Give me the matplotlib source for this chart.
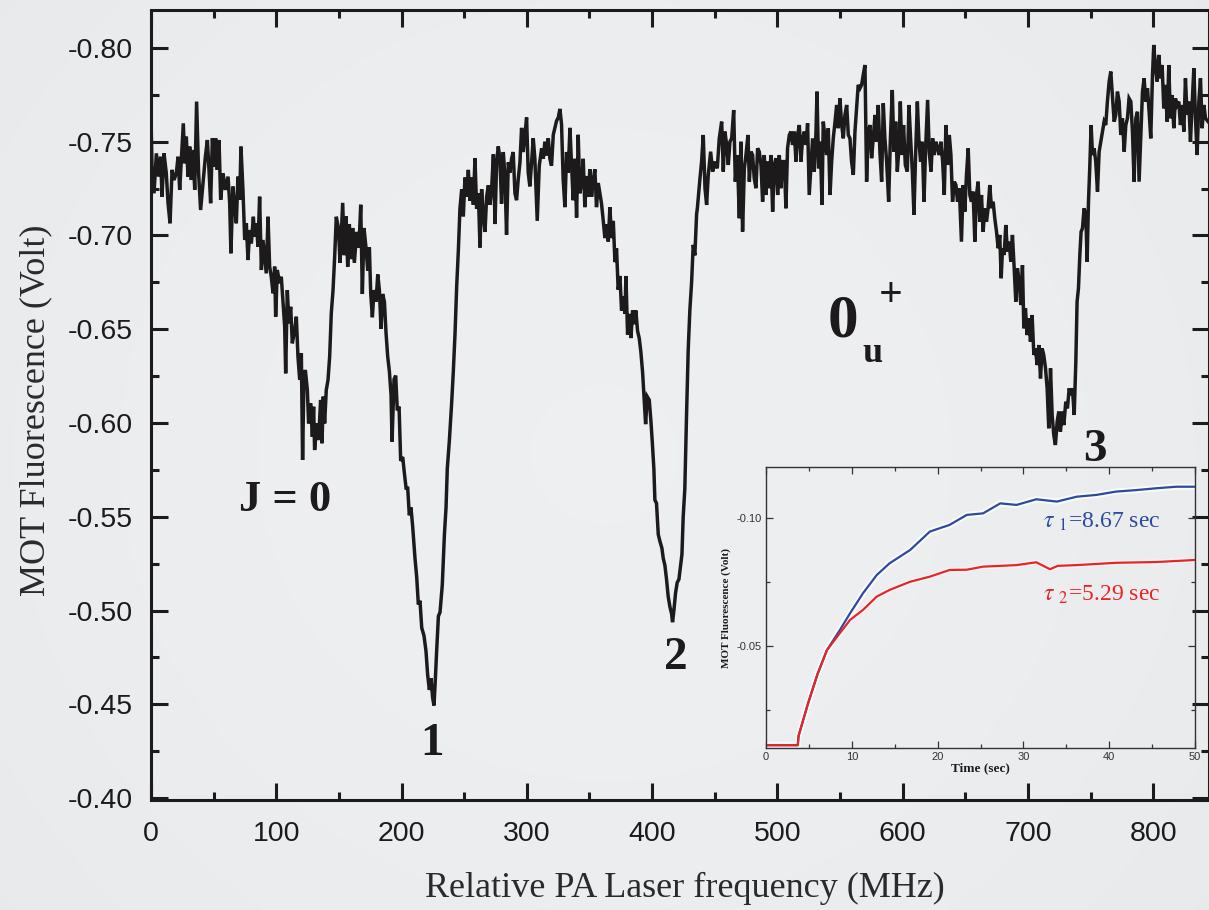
import numpy as np
import matplotlib
matplotlib.use("Agg")
import matplotlib.pyplot as plt
from matplotlib.ticker import MultipleLocator, FixedLocator

plt.rcParams['mathtext.fontset'] = 'stix'

# ---------------- main trace ----------------
freq_mhz = [
    0.0, 0.8, 2.4, 4.3, 6.1, 7.7, 8.8, 10.4, 12.2, 13.6, 15.2, 16.8, 18.4, 20.2, 21.6, 22.9, 24.2, 25.8, 26.9, 28.2,
    29.5, 30.9, 32.2, 33.5, 34.9, 36.4, 38.0, 39.6, 41.5, 43.4, 45.0, 46.3, 47.6, 49.0, 50.3, 51.6, 52.9, 54.3, 55.6, 57.5,
    59.3, 61.5, 62.8, 63.8, 65.4, 66.8, 68.1, 69.4, 70.8, 71.8, 73.4, 74.8, 76.1, 77.4, 78.8, 80.1, 81.7, 82.7, 84.1, 85.4,
    86.7, 88.1, 89.4, 90.7, 92.0, 93.4, 94.7, 96.0, 97.4, 98.7, 99.5, 100.8, 102.7, 104.0, 105.4, 106.7, 107.5, 108.8, 110.1, 111.5,
    112.8, 114.7, 116.0, 117.3, 118.7, 120.0, 121.0, 122.1, 123.2, 124.8, 125.8, 127.4, 128.8, 129.8, 130.6, 132.2, 133.8, 135.4, 136.5, 137.5,
    138.6, 139.9, 141.3, 142.6, 143.9, 145.3, 146.6, 147.9,
    149.6, 150.9, 153.0, 154.3, 155.7, 157.0, 158.3, 159.7, 161.0, 162.3, 164.2, 166.0, 167.4, 168.7, 170.0, 171.6, 173.0, 174.3, 175.4, 176.7,
    178.0, 179.6, 181.0, 182.3, 183.6, 184.9, 186.3, 187.6, 188.9, 190.3, 191.6, 192.4, 194.0, 195.3, 196.6, 198.0, 199.3, 200.9, 202.2, 203.6,
    204.9, 206.2, 207.5, 208.9, 210.7, 212.1, 213.4, 214.7, 216.1, 217.9, 219.5, 220.8, 222.2, 223.5, 224.8, 225.9, 227.0, 228.0, 229.4, 230.7,
    232.5, 234.2, 235.5, 236.5, 238.1, 240.0, 241.3, 242.7, 244.0, 245.3, 246.6, 248.0, 249.3, 250.6, 251.9, 253.3, 254.6, 255.9, 257.3, 258.6,
    259.9, 261.3, 262.6, 263.9, 265.3, 266.6, 267.9, 269.3, 270.6, 271.9, 273.3, 274.6, 275.9, 277.2,
    278.5, 279.8, 281.2, 282.5, 283.8, 285.2, 286.5, 287.8, 289.1, 290.5, 291.8, 293.1, 294.5, 295.8, 297.1, 298.5, 299.8, 301.1, 302.4, 303.8,
    305.1, 306.4, 308.3, 309.9, 311.8, 313.1, 314.4, 315.7, 317.1, 318.4, 319.7, 321.1, 322.4, 323.7, 325.1, 326.4, 327.7, 329.0, 330.4, 331.7,
    333.0, 334.4, 335.7, 337.0, 338.4, 339.7, 341.0, 342.3, 343.7, 345.0, 346.3, 347.7, 349.0, 350.3, 351.7, 353.0, 354.3, 355.6, 357.0, 358.3,
    359.6, 361.0, 362.3, 363.6, 365.0, 366.3, 367.6, 369.0, 370.3, 371.6, 372.9, 374.3, 375.6, 376.9, 378.3, 379.1, 380.4, 381.7, 383.1, 384.4,
    385.7, 387.0, 388.4, 389.7, 391.0, 392.4, 393.7, 394.8, 396.1, 397.7, 399.0, 400.1, 401.4, 402.2, 403.5, 404.9, 406.2, 407.8, 408.9, 410.2,
    411.5, 412.8, 414.2, 415.5, 416.3, 417.4, 418.7, 420.0, 421.4, 422.7, 423.8, 424.8, 426.1, 427.5, 428.8, 430.1, 431.5, 432.8, 434.1, 435.5,
    436.1, 438.2, 439.5, 440.8, 442.2, 443.5, 444.8, 446.7, 448.3, 450.2, 452.0, 453.6, 455.5, 456.8, 458.1, 459.5, 460.8, 462.1, 463.5, 465.1,
    466.4, 468.0, 469.6, 470.9, 472.2, 473.6, 474.9, 476.5, 477.6, 478.9, 480.2, 481.5, 482.9, 484.2, 485.5, 486.9, 488.2, 489.5, 490.9, 492.2,
    493.5, 494.8, 496.2, 497.5, 498.8, 500.2, 501.5, 502.8, 504.2, 505.5, 506.8, 508.1, 509.5, 510.8, 512.1, 513.5, 514.8, 516.1, 517.5, 518.8,
    520.1, 521.5, 522.8, 524.1, 525.4, 526.8, 528.1, 529.4, 530.8, 531.6, 532.9, 534.2, 535.6, 536.6, 538.0, 539.3, 540.6, 542.0, 543.3, 544.6,
    546.0, 547.3, 548.6, 549.9, 551.3, 552.6, 553.9, 555.3, 556.6, 557.9, 559.2, 560.6, 561.9, 563.2, 564.5, 565.9, 567.2, 568.5, 569.9, 571.2,
    572.5, 573.9, 575.2, 576.5, 577.9, 579.2, 580.5, 581.8, 583.2, 584.5, 585.8, 587.2, 588.8, 590.1, 591.7, 593.0, 594.4, 595.7, 597.0, 598.1,
    599.4, 600.7, 602.1, 603.7, 605.0, 606.3, 607.7, 609.0, 610.3, 611.7, 613.0, 614.3, 615.6, 617.0, 618.3, 619.9, 621.2, 622.6, 623.9, 625.2,
    626.5, 627.9, 629.2, 630.5, 631.9, 633.2, 634.5, 635.8, 637.2, 638.5, 639.8, 641.2, 642.5, 643.8, 645.2,
    646.9, 648.3, 649.6, 650.9, 652.3, 653.6, 654.9, 656.2, 657.6, 658.9, 660.2, 661.6, 662.9, 664.2, 665.6, 666.9, 668.2, 669.5, 670.9, 672.2,
    673.5, 674.9, 676.2, 677.5, 678.6, 679.7, 681.0, 682.3, 683.6, 685.0, 686.3, 687.6, 689.0, 690.3, 691.6, 693.0, 694.3, 695.6, 696.7, 698.0,
    699.3, 700.7, 702.0, 703.3, 704.7, 706.0, 707.3, 708.7, 710.0, 711.3, 712.6, 714.0, 715.3, 716.6, 718.0, 719.3, 720.6, 721.9, 723.3, 724.6,
    725.9, 727.3, 728.6, 730.2, 731.5, 732.9, 734.2, 735.5, 736.9, 738.2, 739.2, 740.3, 741.4, 742.4, 743.5, 744.8, 746.2, 747.2, 748.3, 749.3,
    750.4, 751.5, 752.8, 754.1, 755.5, 756.8, 758.1, 759.5, 760.8, 762.1, 763.4, 764.8, 766.1, 767.4, 768.8, 770.1, 771.4, 772.8, 774.1, 775.4,
    776.8, 778.1, 779.4, 780.7, 782.1, 783.4, 784.7, 786.1, 787.4, 788.7, 790.1, 791.4, 792.7, 794.0, 795.4, 796.7, 798.0, 799.4, 800.4, 801.8,
    803.1, 804.4, 805.8, 807.1, 808.4, 809.7, 811.1, 812.4, 813.7, 815.1, 816.4, 817.7, 819.1, 820.4, 821.7, 823.1, 824.4, 825.7, 827.0, 828.4,
    829.7, 831.0, 832.4, 833.7, 835.0, 836.4, 837.7, 839.0, 840.4, 841.7, 843.8,
]
fluor_volt = [
    -0.7627, -0.7367, -0.7225, -0.7438, -0.7314, -0.7420, -0.7207, -0.7438, -0.7332, -0.7172, -0.7065, -0.7350, -0.7296, -0.7332, -0.7420, -0.7243, -0.7403, -0.7598, -0.7385, -0.7527,
    -0.7314, -0.7474, -0.7296, -0.7456, -0.7243, -0.7714, -0.7332, -0.7136, -0.7278, -0.7420, -0.7509, -0.7350, -0.7172, -0.7518, -0.7367, -0.7518, -0.7350, -0.7509, -0.7190, -0.7332,
    -0.7243, -0.7314, -0.7172, -0.6905, -0.7261, -0.7154, -0.7065, -0.7314, -0.7190, -0.7474, -0.7243, -0.6976, -0.7065, -0.6869, -0.7029, -0.6958, -0.7100, -0.6994, -0.7065, -0.6940,
    -0.7207, -0.6816, -0.6976, -0.6887, -0.6798, -0.7100, -0.6834, -0.6780, -0.6692, -0.6834, -0.6567, -0.6816, -0.6745, -0.6780, -0.6638, -0.6514, -0.6265, -0.6709, -0.6532, -0.6620,
    -0.6425, -0.6496, -0.6567, -0.6354, -0.6230, -0.6372, -0.5803, -0.6247, -0.6283, -0.6176, -0.5998, -0.6105, -0.5927, -0.6087, -0.5856, -0.5998, -0.5909, -0.6123, -0.5892, -0.6141,
    -0.5998, -0.6176, -0.6230, -0.6354, -0.6585, -0.6709, -0.6887, -0.7100,
    -0.7040, -0.6854, -0.7174, -0.6895, -0.7102, -0.6833, -0.7061, -0.6874, -0.7040, -0.6854, -0.7019, -0.6936, -0.7164, -0.6688, -0.7040, -0.6936, -0.6812, -0.6936, -0.6688, -0.6564,
    -0.6709, -0.6647, -0.6792, -0.6709, -0.6502, -0.6688, -0.6647, -0.6481, -0.6357, -0.6274, -0.6150, -0.5901, -0.6233, -0.6253, -0.6067, -0.6088, -0.5798, -0.5819, -0.5736, -0.5653,
    -0.5653, -0.5508, -0.5550, -0.5446, -0.5280, -0.5177, -0.5032, -0.5053, -0.4908, -0.4866, -0.4784, -0.4659, -0.4577, -0.4639, -0.4535, -0.4494, -0.4639, -0.4784, -0.4970, -0.4991,
    -0.5136, -0.5405, -0.5550, -0.5757, -0.5901, -0.6109, -0.6274, -0.6481, -0.6729, -0.6916, -0.7143, -0.7247, -0.7102, -0.7309, -0.7206, -0.7350, -0.7185, -0.7309, -0.7164, -0.7413,
    -0.7143, -0.7226, -0.6936, -0.7247, -0.7102, -0.7019, -0.7206, -0.7268, -0.7164, -0.7247, -0.7433, -0.7061, -0.7392, -0.7475,
    -0.7409, -0.7170, -0.7445, -0.7317, -0.7004, -0.7390, -0.7335, -0.7409, -0.7445, -0.7225, -0.7188, -0.7298, -0.7390, -0.7574, -0.7445, -0.7537, -0.7629, -0.7335, -0.7262, -0.7390,
    -0.7519, -0.7409, -0.7078, -0.7372, -0.7464, -0.7409, -0.7500, -0.7427, -0.7519, -0.7409, -0.7372, -0.7537, -0.7574, -0.7611, -0.7629, -0.7675, -0.7592, -0.7298, -0.7151, -0.7445,
    -0.7335, -0.7574, -0.7372, -0.7188, -0.7409, -0.7096, -0.7537, -0.7225, -0.7280, -0.7409, -0.7151, -0.7317, -0.7207, -0.7353, -0.7207, -0.7298, -0.7353, -0.7151, -0.7280, -0.7225,
    -0.7170, -0.7078, -0.6986, -0.7059, -0.6968, -0.7151, -0.6986, -0.7078, -0.6858, -0.6931, -0.6711, -0.6784, -0.6600, -0.6674, -0.6582, -0.6784, -0.6472, -0.6582, -0.6453, -0.6600,
    -0.6527, -0.6600, -0.6490, -0.6453, -0.6380, -0.6270, -0.6123, -0.5994, -0.6141, -0.6123, -0.6013, -0.5902, -0.5755, -0.5590, -0.5572, -0.5406, -0.5370, -0.5333, -0.5278, -0.5241,
    -0.5167, -0.5076, -0.5020, -0.4984, -0.4938, -0.5002, -0.5094, -0.5149, -0.5167, -0.5241, -0.5300, -0.5500, -0.5650, -0.6050, -0.6390, -0.6600, -0.6750, -0.6950, -0.6894, -0.7114,
    -0.7145, -0.7305, -0.7394, -0.7536, -0.7252, -0.7163, -0.7323, -0.7447, -0.7341, -0.7394, -0.7358, -0.7518, -0.7607, -0.7341, -0.7554, -0.7483, -0.7376, -0.7500, -0.7518, -0.7669,
    -0.7287, -0.7429, -0.7092, -0.7500, -0.7021, -0.7358, -0.7429, -0.7536, -0.7287, -0.7447, -0.7429, -0.7305, -0.7252, -0.7465, -0.7447, -0.7376, -0.7180, -0.7429, -0.7216, -0.7394,
    -0.7252, -0.7429, -0.7127, -0.7376, -0.7412, -0.7216, -0.7429, -0.7252, -0.7394, -0.7394, -0.7145, -0.7465, -0.7536, -0.7554, -0.7483, -0.7554, -0.7394, -0.7536, -0.7589, -0.7394,
    -0.7518, -0.7554, -0.7483, -0.7598, -0.7216, -0.7376, -0.7518, -0.7341, -0.7554, -0.7767, -0.7358, -0.7500, -0.7163, -0.7607, -0.7518, -0.7429, -0.7572, -0.7216, -0.7394, -0.7518,
    -0.7607, -0.7696, -0.7572, -0.7731, -0.7589, -0.7518, -0.7643, -0.7696, -0.7536, -0.7518, -0.7394, -0.7323, -0.7554, -0.7678, -0.7803, -0.7785, -0.7803, -0.7856, -0.7909, -0.7287,
    -0.7554, -0.7589, -0.7412, -0.7518, -0.7643, -0.7500, -0.7696, -0.7447, -0.7287, -0.7705, -0.7518, -0.7394, -0.7180, -0.7500, -0.7776, -0.7447, -0.7607, -0.7341, -0.7465, -0.7714,
    -0.7429, -0.7589, -0.7376, -0.7341, -0.7696, -0.7518, -0.7341, -0.7110, -0.7429, -0.7714, -0.7500, -0.7394, -0.7500, -0.7180, -0.7465, -0.7723, -0.7447, -0.7341, -0.7518, -0.7429,
    -0.7500, -0.7465, -0.7429, -0.7500, -0.7394, -0.7216, -0.7589, -0.7376, -0.7536, -0.7429, -0.7180, -0.7287, -0.7269, -0.7180, -0.7252,
    -0.6967, -0.7269, -0.7127, -0.7323, -0.7465, -0.7216, -0.7180, -0.7234, -0.6967, -0.7216, -0.7287, -0.7074, -0.7216, -0.7020, -0.7145, -0.7074, -0.7145, -0.7269, -0.7145, -0.7180,
    -0.7092, -0.7020, -0.6932, -0.7003, -0.6772, -0.6932, -0.6896, -0.7056, -0.6914, -0.6967, -0.6860, -0.7003, -0.6825, -0.6647, -0.6825, -0.6754, -0.6629, -0.6842, -0.6505, -0.6612,
    -0.6469, -0.6558, -0.6434, -0.6576, -0.6363, -0.6398, -0.6309, -0.6416, -0.6238, -0.6398, -0.6363, -0.6292, -0.6185, -0.5972, -0.6292, -0.6043, -0.5936, -0.5883, -0.6007, -0.6061,
    -0.5954, -0.6061, -0.5989, -0.6114, -0.6078, -0.6185, -0.6149, -0.6185, -0.6043, -0.6327, -0.6647, -0.6718, -0.6896, -0.7020, -0.7038, -0.7145, -0.7109, -0.6860, -0.7180, -0.7358,
    -0.7589, -0.7429, -0.7465, -0.7394, -0.7234, -0.7447, -0.7500, -0.7554, -0.7607, -0.7589, -0.7714, -0.7821, -0.7874, -0.7749, -0.7607, -0.7643, -0.7767, -0.7714, -0.7536, -0.7625,
    -0.7447, -0.7589, -0.7625, -0.7731, -0.7714, -0.7554, -0.7287, -0.7625, -0.7660, -0.7287, -0.7536, -0.7767, -0.7838, -0.7714, -0.7785, -0.7660, -0.7518, -0.7856, -0.8016, -0.7892,
    -0.7821, -0.7963, -0.7838, -0.7909, -0.7678, -0.7803, -0.7607, -0.7909, -0.7625, -0.7749, -0.7572, -0.7731, -0.7696, -0.7714, -0.7589, -0.7696, -0.7554, -0.7838, -0.7643, -0.7714,
    -0.7500, -0.7696, -0.7892, -0.7625, -0.7429, -0.7714, -0.7838, -0.7572, -0.7696, -0.7625, -0.7607,
]

# ---------------- inset traces ----------------
time_blue = [0, 3.7, 3.8, 4.9, 6.0, 7.1, 8.6, 9.8, 11.3, 12.9, 14.4, 16.8, 19.1, 21.4, 23.4, 25.3, 27.3, 29.2,
             31.5, 33.9, 36.2, 38.5, 40.8, 43.2, 45.5, 47.8, 50.0]
volt_blue = [-0.0113, -0.0113, -0.0150, -0.0276, -0.0390, -0.0484, -0.0562, -0.0628, -0.0706, -0.0777, -0.0823,
             -0.0875, -0.0947, -0.0973, -0.1012, -0.1018, -0.1057, -0.1051, -0.1073, -0.1064, -0.1083, -0.1090,
             -0.1103, -0.1109, -0.1116, -0.1122, -0.1122]
time_red = [0, 3.7, 3.8, 4.9, 6.0, 7.1, 8.6, 9.8, 11.3, 12.9, 14.4, 16.8, 19.1, 21.4, 23.4, 25.3, 29.2,
            31.5, 33.1, 34.0, 36.2, 40.8, 45.5, 50.0]
volt_red = [-0.0113, -0.0113, -0.0150, -0.0276, -0.0390, -0.0484, -0.0550, -0.0602, -0.0641, -0.0693, -0.0719,
            -0.0751, -0.0771, -0.0797, -0.0798, -0.0810, -0.0816, -0.0827, -0.0800, -0.0813, -0.0816, -0.0825,
            -0.0828, -0.0836]

x_ticks = [0, 100, 200, 300, 400, 500, 600, 700, 800]
y_ticks = [-0.80, -0.75, -0.70, -0.65, -0.60, -0.55, -0.50, -0.45, -0.40]
inset_xticks = [0, 10, 20, 30, 40, 50]
inset_yticks = [-0.10, -0.05]

SANS = 'Liberation Sans'
SERIF = 'Liberation Serif'
W, H = 1209, 910

fig = plt.figure(figsize=(W / 100, H / 100), dpi=100)
fig.patch.set_facecolor('#e8eaed')

# subtle vignette background
bg = fig.add_axes([0, 0, 1, 1], zorder=-10)
yy, xx = np.mgrid[0:1:200j, 0:1:260j]
r = np.sqrt((xx - 0.5) ** 2 + ((yy - 0.5) * 0.8) ** 2)
shade = 0.945 - 0.05 * r ** 2
bg.imshow(np.dstack([shade * 0.985, shade * 0.992, shade * 1.0]).clip(0, 1), aspect='auto',
          extent=[0, 1, 0, 1], interpolation='bicubic')
bg.set_axis_off()

ax = fig.add_axes([151 / W, 1 - 800 / H, 1 - 151 / W, (800 - 9.5) / H])
ax.set_facecolor('none')
ax.plot(freq_mhz, fluor_volt, color='#1c1a1b', lw=2.5, solid_joinstyle='miter')
ax.set_xlim(0, 844.5)
ax.set_ylim(-0.399, -0.8205)

ax.xaxis.set_major_locator(FixedLocator(x_ticks))
ax.xaxis.set_minor_locator(MultipleLocator(50))
ax.yaxis.set_major_locator(FixedLocator(y_ticks))
ax.yaxis.set_minor_locator(MultipleLocator(0.025))
ax.set_xticklabels([str(v) for v in x_ticks])
ax.set_yticklabels([f'{v:.2f}' for v in y_ticks])
ax.tick_params(which='both', direction='in', top=True, right=True, color='#1c1a1b', width=2.2)
ax.tick_params(which='major', length=12, labelsize=20.5)
ax.tick_params(axis='x', which='major', pad=15)
ax.tick_params(axis='y', which='major', pad=13)
ax.tick_params(which='minor', length=6)
for lab in ax.get_xticklabels() + ax.get_yticklabels():
    lab.set_fontfamily(SANS)
    lab.set_color('#1c1a1b')
for s in ax.spines.values():
    s.set_linewidth(2.2)
    s.set_color('#1c1a1b')

fig.text(685 / W, 1 - 888 / H, 'Relative PA Laser frequency (MHz)', ha='center', va='center',
         fontfamily=SERIF, fontsize=26, color='#2a2a2a')
fig.text(36 / W, 1 - 410 / H, 'MOT Fluorescence (Volt)', ha='center', va='center', rotation=90,
         fontfamily=SERIF, fontsize=26, color='#2a2a2a')

def ftext(x, y, s, size, **kw):
    fig.text(x / W, 1 - y / H, s, ha='center', va='center', fontfamily=SERIF, fontweight='bold',
             fontsize=size, color='#1c1a1b', **kw)

ftext(285, 500, 'J = 0', 32)
ftext(432, 744, '1', 34)
ftext(676, 658, '2', 34)
ftext(1095, 450, '3', 34)
ftext(843, 321, '0', 44)
ftext(872, 354, 'u', 26)
ftext(891, 296, '+', 30)

# ---------------- inset ----------------
ins = fig.add_axes([766 / W, 1 - 748 / H, (1195 - 766) / W, (748 - 467) / H])
ins.set_facecolor('none')
ins.plot(time_blue, volt_blue, color='white', lw=4.5, alpha=0.8)
ins.plot(time_red, volt_red, color='white', lw=3.5, alpha=0.6)
ins.plot(time_blue, volt_blue, color='#2c4a9e', lw=1.6)
ins.plot(time_red, volt_red, color='#ea2327', lw=1.6)
ins.set_xlim(0, 50)
ins.set_ylim(-0.0102, -0.1199)
ins.xaxis.set_major_locator(FixedLocator(inset_xticks))
ins.xaxis.set_minor_locator(MultipleLocator(5))
ins.yaxis.set_major_locator(FixedLocator(inset_yticks))
ins.yaxis.set_minor_locator(MultipleLocator(0.025))
ins.set_xticklabels([str(v) for v in inset_xticks])
ins.set_yticklabels([f'{v:.2f}' for v in inset_yticks])
ins.tick_params(which='both', direction='in', top=True, right=True, color='#333333', width=0.9,
                labelsize=8, pad=3)
ins.tick_params(which='major', length=5)
ins.tick_params(which='minor', length=3)
for lab in ins.get_xticklabels() + ins.get_yticklabels():
    lab.set_fontfamily(SANS)
    lab.set_color('#333333')
for s in ins.spines.values():
    s.set_linewidth(1.0)
    s.set_color('#333333')
ins.set_xlabel('Time (sec)', fontfamily=SERIF, fontweight='bold', fontsize=9.5, labelpad=0, color='#1c1a1b')
ins.set_ylabel('MOT Fluorescence (Volt)', fontfamily=SERIF, fontweight='bold', fontsize=8, labelpad=4,
               color='#1c1a1b')

fig.text(1043 / W, 1 - 522 / H, r'$\tau$ $_1$=8.67 sec', ha='left', va='center', fontfamily=SERIF,
         fontsize=17, color='#2c4a9e')
fig.text(1043 / W, 1 - 595 / H, r'$\tau$ $_2$=5.29 sec', ha='left', va='center', fontfamily=SERIF,
         fontsize=17, color='#ea2327')

fig.savefig('out.png', dpi=100, facecolor=fig.get_facecolor())
